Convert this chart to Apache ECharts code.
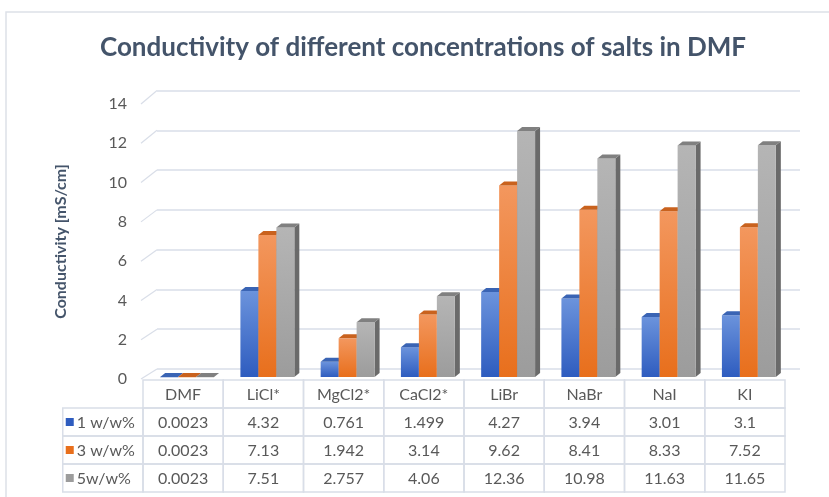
<!DOCTYPE html>
<html lang="en">
<head>
<meta charset="UTF-8">
<title>Conductivity</title>
<style>
  html, body { margin: 0; padding: 0; background: #fff; }
  #chart { width: 829px; height: 497px; }
</style>
</head>
<body>
<div id="chart"></div>
<script src="https://cdn.jsdelivr.net/npm/echarts@6/dist/echarts.min.js"></script>
<script type="text/javascript">
// data
var categories = ['DMF', 'LiCl*', 'MgCl2*', 'CaCl2*', 'LiBr', 'NaBr', 'NaI', 'KI'];
var seriesNames = ['1 w/w%', '3 w/w%', '5w/w%'];
var conc1 = [0.0023, 4.32, 0.761, 1.499, 4.27, 3.94, 3.01, 3.1];
var conc3 = [0.0023, 7.13, 1.942, 3.14, 9.62, 8.41, 8.33, 7.52];
var conc5 = [0.0023, 7.51, 2.757, 4.06, 12.36, 10.98, 11.63, 11.65];
var yTicks = [0, 2, 4, 6, 8, 10, 12, 14];

var allValues = [conc1, conc3, conc5];
var font = 'Lato, "Open Sans", sans-serif';
var textGrey = '#595959';
var lineCol = '#d9dee8';

// face colours: [front top, front bottom, side, top]
var palette = [
    ['#6b93dc', '#2e5cbf', '#2a4e8f', '#3a64b4'],
    ['#f3975e', '#e86f1c', '#a9521a', '#c9621e'],
    ['#b5b5b5', '#9c9c9c', '#6a6a6a', '#808080']
];

// back wall geometry (for the little diagonals)
var backTop = 90.5, backH = 278.5, yMax = 14;

var chart = echarts.init(document.getElementById('chart'));

function bar3d(si) {
    return function (params, api) {
        var ci = api.value(0), v = api.value(1);
        var base = api.coord([ci, 0]);
        var top = api.coord([ci, v]);
        var band = api.size([1, 0])[0];
        var bw = band * 0.224;
        var x0 = base[0] + (si - 1.5) * bw;
        var x1 = x0 + bw;
        var yb = base[1], yt = top[1];
        var dx = 5, dy = 4;
        var c = palette[si];
        return {
            type: 'group',
            children: [
                { type: 'polygon', shape: { points: [[x1, yt], [x1 + dx, yt - dy], [x1 + dx, yb - dy], [x1, yb]] }, style: { fill: c[2] } },
                {
                    type: 'rect', shape: { x: x0, y: yt, width: bw, height: Math.max(yb - yt, 0.3) },
                    style: { fill: new echarts.graphic.LinearGradient(0, 0, 0, 1, [{ offset: 0, color: c[0] }, { offset: 1, color: c[1] }]) }
                },
                { type: 'polygon', shape: { points: [[x0, yt], [x1, yt], [x1 + dx, yt - dy], [x0 + dx, yt - dy]] }, style: { fill: c[3] } }
            ]
        };
    };
}

// table cells: [col, row, text, seriesIdx]
var tableData = [];
categories.forEach(function (name, i) { tableData.push([i + 1, 0, name, -1]); });
allValues.forEach(function (vals, si) {
    tableData.push([0, si + 1, seriesNames[si], si]);
    vals.forEach(function (v, i) { tableData.push([i + 1, si + 1, String(v), -1]); });
});

function tableCell(params, api) {
    var col = api.value(0), row = api.value(1);
    var txt = tableData[params.dataIndex][2];
    var si = tableData[params.dataIndex][3];
    var c = api.coord([col, row]);
    var s = api.size([1, 1]);
    var x = c[0] - s[0] / 2, y = c[1] - s[1] / 2;
    var children = [
        { type: 'rect', shape: { x: x, y: y, width: s[0], height: s[1] }, style: { fill: 'none', stroke: lineCol, lineWidth: 1.5 } }
    ];
    if (si >= 0) {
        children.push({ type: 'rect', shape: { x: x + 3, y: c[1] - 4, width: 8, height: 8 }, style: { fill: palette[si][1] } });
        children.push({ type: 'text', style: { text: txt, x: x + 14, y: c[1] + 1, align: 'left', textAlign: 'left', verticalAlign: 'middle', textVerticalAlign: 'middle', fill: textGrey, font: '16px ' + font } });
    } else {
        children.push({ type: 'text', style: { text: txt, x: c[0], y: c[1] + 1, align: 'center', textAlign: 'center', verticalAlign: 'middle', textVerticalAlign: 'middle', fill: textGrey, font: '16px ' + font } });
    }
    return { type: 'group', children: children };
}

function diag(params, api) {
    var v = api.value(0);
    var p = api.coord([0, v]);
    var yBack = backTop + backH * (1 - v / yMax);
    return { type: 'line', shape: { x1: p[0], y1: p[1], x2: p[0] + 16, y2: yBack }, style: { stroke: lineCol, lineWidth: 1.2 } };
}

var option = {
    animation: false,
    title: {
        text: 'Conductivity of different concentrations of salts in DMF',
        left: 418, top: 30, textAlign: 'center',
        textStyle: { fontFamily: font, fontWeight: 'bold', fontSize: 26, color: '#44546a' }
    },
    graphic: [
        { type: 'rect', shape: { x: 6, y: 12, width: 860, height: 520 }, style: { fill: 'none', stroke: '#dde1e8', lineWidth: 1.5 }, silent: true }
    ],
    grid: [
        { left: 157, top: backTop, width: 643, height: backH },          // back wall
        { left: 141, top: 104, width: 644, height: 275 },                // front edge / labels
        { left: 147, top: 98.4, width: 642, height: 278.6 },             // bars
        { left: 62.75, top: 380, width: 722.25, height: 112 }            // data table
    ],
    xAxis: [
        { gridIndex: 0, type: 'category', data: categories, show: false },
        { gridIndex: 1, type: 'value', min: 0, max: 1, show: false },
        { gridIndex: 2, type: 'category', data: categories, show: false },
        { gridIndex: 3, type: 'category', data: [''].concat(categories), show: false }
    ],
    yAxis: [
        {
            gridIndex: 0, type: 'value', min: 0, max: yMax, interval: 2,
            axisLine: { show: false }, axisTick: { show: false }, axisLabel: { show: false },
            splitLine: { lineStyle: { color: lineCol, width: 1.5 } }
        },
        {
            gridIndex: 1, type: 'value', min: 0, max: yMax, interval: 2,
            axisLine: { show: false }, axisTick: { show: false }, splitLine: { show: false },
            axisLabel: { margin: 14, color: textGrey, fontFamily: font, fontSize: 16 },
            name: 'Conductivity [mS/cm]', nameLocation: 'middle', nameRotate: 90, nameGap: 72,
            nameTextStyle: { fontFamily: font, fontWeight: 'bold', fontSize: 16, color: '#44546a' }
        },
        { gridIndex: 2, type: 'value', min: 0, max: yMax, show: false },
        { gridIndex: 3, type: 'category', data: ['h', 'a', 'b', 'c'], inverse: true, show: false }
    ],
    series: [
        {
            type: 'custom', xAxisIndex: 1, yAxisIndex: 1, renderItem: diag, silent: true,
            data: yTicks.map(function (t) { return [t]; }), encode: { y: 0 }
        },
        {
            name: seriesNames[0], type: 'custom', xAxisIndex: 2, yAxisIndex: 2, renderItem: bar3d(0),
            data: conc1.map(function (v, i) { return [i, v]; }), encode: { x: 0, y: 1 }
        },
        {
            name: seriesNames[1], type: 'custom', xAxisIndex: 2, yAxisIndex: 2, renderItem: bar3d(1),
            data: conc3.map(function (v, i) { return [i, v]; }), encode: { x: 0, y: 1 }
        },
        {
            name: seriesNames[2], type: 'custom', xAxisIndex: 2, yAxisIndex: 2, renderItem: bar3d(2),
            data: conc5.map(function (v, i) { return [i, v]; }), encode: { x: 0, y: 1 }
        },
        {
            type: 'custom', xAxisIndex: 3, yAxisIndex: 3, renderItem: tableCell, silent: true,
            data: tableData.map(function (d) { return [d[0], d[1]]; }), encode: { x: 0, y: 1 }
        }
    ]
};

chart.setOption(option);
</script>
</body>
</html>
